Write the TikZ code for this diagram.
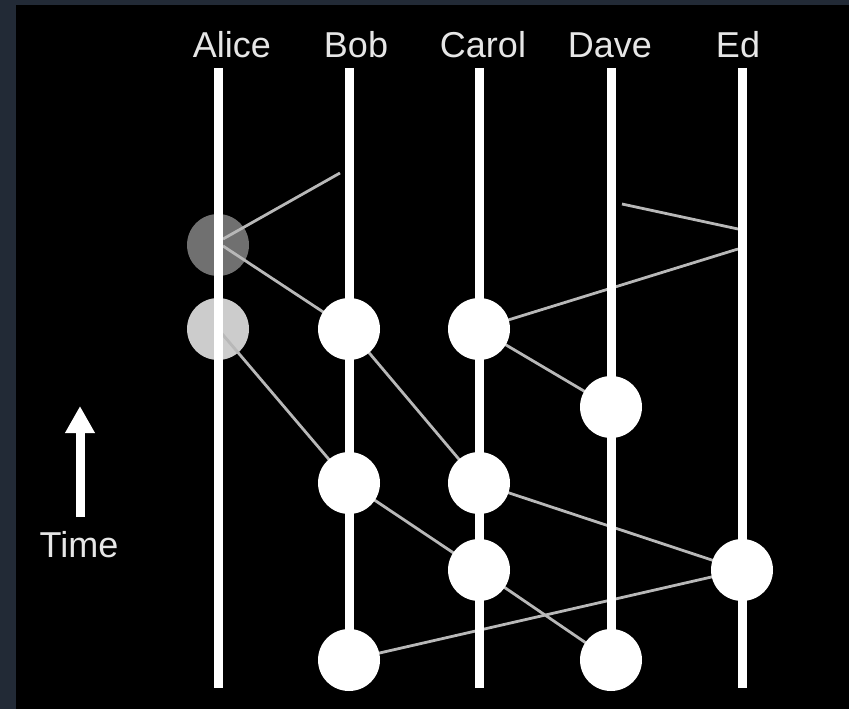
\documentclass[tikz,border=0pt]{standalone}
\usepackage{fontspec}
\setmainfont{Liberation Sans}
\usetikzlibrary{arrows.meta}
\definecolor{frame}{HTML}{222A36}
\definecolor{msgc}{HTML}{B8B8B8}
\definecolor{txtc}{HTML}{E6E6E6}
\definecolor{pastdark}{HTML}{707070}
\definecolor{pastlight}{HTML}{CCCCCC}
\tikzset{
  lifeline/.style={draw=white, line width=9pt},
  msg/.style={draw=msgc, line width=2.8pt},
  event/.style={circle, fill=white, minimum size=62pt, inner sep=0pt},
  pastevent/.style={circle, minimum size=62pt, inner sep=0pt},
  label/.style={anchor=base, text=txtc, font=\fontsize{36}{40}\selectfont, inner sep=0pt},
}
\begin{document}
\begin{tikzpicture}[x=1pt, y=-1pt]
\useasboundingbox (0,0) rectangle (849,709);
\fill[frame] (0,0) rectangle (849,709);
\fill[black] (16,5) rectangle (849,709);

% lifeline ends
\foreach \n/\x in {A/218, B/349, C/479, D/611, E/742}{
  \coordinate (\n top) at (\x,68);
  \coordinate (\n bot) at (\x,688);
}
% names
\node[label] (nA) at (232,58) {Alice};
\node[label] (nB) at (356,58) {Bob};
\node[label] (nC) at (483,58) {Carol};
\node[label] (nD) at (610,58) {Dave};
\node[label] (nE) at (738,58) {Ed};

% past events of Alice (drawn below everything)
\node[pastevent, fill=pastdark] (a1) at (218,245) {};
\node[pastevent, fill=pastlight] (a2) at (218,329) {};

% message end points
\coordinate (s1) at (340,173);
\coordinate (r1) at (223,239);
\coordinate (s2) at (223,246);
\coordinate (s4) at (622,204);
\coordinate (r4) at (738,229);
\coordinate (s5) at (738,249);

% event positions
\coordinate (b1) at (349,329);
\coordinate (c1) at (479,329);
\coordinate (d1) at (611,407);
\coordinate (b2) at (349,483);
\coordinate (c2) at (479,483);
\coordinate (c3) at (479,570);
\coordinate (e1) at (742,570);
\coordinate (b3) at (349,660);
\coordinate (d2) at (611,660);

% messages
\draw[msg] (s1) -- (r1);
\draw[msg] (s2) -- (b1);
\draw[msg] (a2.center) -- (b2);
\draw[msg] (s4) -- (r4);
\draw[msg] (s5) -- (c1);
\draw[msg] (c1) -- (d1);
\draw[msg] (b1) -- (c2);
\draw[msg] (c2) -- (e1);
\draw[msg] (b2) -- (c3);
\draw[msg] (c3) -- (d2);
\draw[msg] (e1) -- (b3);

% lifelines
\foreach \n in {A,B,C,D,E}{
  \draw[lifeline] (\n top) -- (\n bot);
}

% events
\foreach \p in {b1,c1,d1,b2,c2,c3,e1,b3,d2}{
  \node[event] (ev\p) at (\p) {};
}

% time arrow
\coordinate (tbot) at (80,517);
\coordinate (ttip) at (80,406);
\draw[white, line width=9pt, -{Triangle[width=28pt,length=27pt]}] (tbot) -- (ttip);
\node[label] (time) at (79,557) {Time};
\end{tikzpicture}
\end{document}
